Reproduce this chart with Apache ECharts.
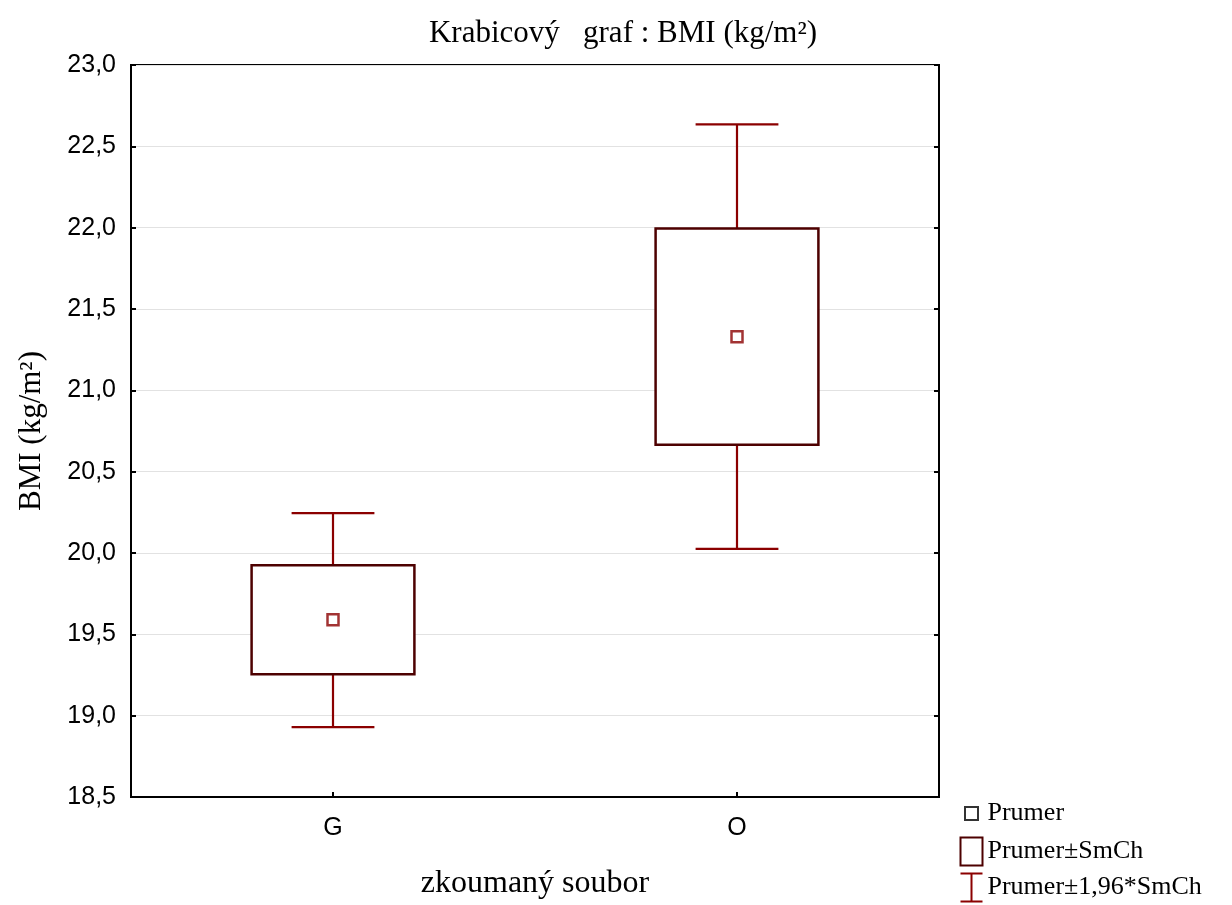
<!DOCTYPE html>
<html>
<head>
<meta charset="utf-8">
<script src="https://cdn.jsdelivr.net/npm/echarts@6/dist/echarts.min.js"></script>
<style>
  html, body { margin: 0; padding: 0; background: #fff; }
  #main { width: 1232px; height: 905px; }
</style>
</head>
<body>
<div id="main"></div>
<script>
// zkoumané soubory
var categories = ['G', 'O'];
// prumer
var means = [19.59, 21.33];
// prumer -/+ SmCh
var seLow = [19.255, 20.665];
var seHigh = [19.925, 21.995];
// prumer -/+ 1,96*SmCh
var ciLow = [18.93, 20.025];
var ciHigh = [20.245, 22.635];
var yTicks = [18.5, 19.0, 19.5, 20.0, 20.5, 21.0, 21.5, 22.0, 22.5, 23.0];

var boxColor = '#4d0000';
var whiskerColor = '#8b0000';
var serif = '"Liberation Serif", "DejaVu Serif", serif';
var sans = '"Liberation Sans", Arial, sans-serif';

var boxData = categories.map(function (c, i) { return [i, seLow[i], seHigh[i]]; });
var ciData = categories.map(function (c, i) { return [i, ciLow[i], ciHigh[i]]; });
var meanData = categories.map(function (c, i) { return [i, means[i]]; });

var myChart = echarts.init(document.getElementById('main'));

function fmt(v) { return v.toFixed(1).replace('.', ','); }

// one legend per row, so the column never wraps at the bottom edge
function legendRow(top, item) {
    return {
        orient: 'vertical',
        left: 958,
        top: top,
        padding: 0,
        itemWidth: 22,
        itemHeight: 28,
        textStyle: { fontFamily: serif, fontSize: 26, color: '#000' },
        data: [item]
    };
}

var yAxisBase = {
    type: 'value',
    min: yTicks[0],
    max: yTicks[yTicks.length - 1],
    interval: 0.5,
    axisLine: { show: true, lineStyle: { color: '#000', width: 2 } },
    axisTick: { show: true, inside: true, length: 5, lineStyle: { color: '#000', width: 2 } }
};

myChart.setOption({
    animation: false,
    title: {
        text: 'Krabicový   graf : BMI (kg/m²)',
        left: 618,
        textAlign: 'center',
        top: 13,
        textStyle: { fontFamily: serif, fontSize: 31, fontWeight: 'normal', color: '#000' }
    },
    grid: {
        left: 131, right: 293, top: 65, bottom: 108,
        show: true, borderColor: '#000', borderWidth: 2
    },
    legend: [
        legendRow(797, {
            name: 'Prumer',
            icon: 'path://M0,0M22,28M4.5,7.5h13v13h-13Z',
            itemStyle: { color: 'none', borderColor: '#000', borderWidth: 2 }
        }),
        legendRow(835, {
            name: 'Prumer±SmCh',
            icon: 'path://M0,0h22v28h-22Z',
            itemStyle: { color: 'none', borderColor: boxColor, borderWidth: 2 }
        }),
        legendRow(871, {
            name: 'Prumer±1,96*SmCh',
            icon: 'path://M0,0H22M11,0V28M0,28H22',
            itemStyle: { color: 'none', borderColor: whiskerColor, borderWidth: 2 }
        })
    ],
    xAxis: {
        type: 'category',
        data: categories,
        name: 'zkoumaný soubor',
        nameLocation: 'middle',
        nameGap: 71,
        nameTextStyle: { fontFamily: serif, fontSize: 32, color: '#000' },
        axisLine: { show: true, lineStyle: { color: '#000', width: 2 } },
        axisTick: { show: true, inside: true, alignWithLabel: true, length: 5, lineStyle: { color: '#000', width: 2 },
            interval: 0 },
        axisLabel: { margin: 19, fontFamily: sans, fontSize: 25, color: '#000' },
        splitLine: { show: false }
    },
    yAxis: [
        Object.assign({}, yAxisBase, {
            position: 'left',
            name: 'BMI (kg/m²)',
            nameLocation: 'middle',
            nameGap: 84,
            nameTextStyle: { fontFamily: serif, fontSize: 31, color: '#000' },
            axisLabel: { margin: 15, fontFamily: sans, fontSize: 25, color: '#000', formatter: fmt },
            splitLine: { show: true, lineStyle: { color: '#e2e2e2', width: 1 } }
        }),
        Object.assign({}, yAxisBase, {
            position: 'right',
            axisLabel: { show: false },
            splitLine: { show: false }
        })
    ],
    series: [
        {
            name: 'Prumer±1,96*SmCh',
            type: 'custom',
            data: ciData,
            z: 2,
            itemStyle: { color: whiskerColor },
            renderItem: function (params, api) {
                var x = api.value(0);
                var lo = api.coord([x, api.value(1)]);
                var hi = api.coord([x, api.value(2)]);
                var cap = api.size([1, 0])[0] * 0.205;
                var st = { stroke: whiskerColor, lineWidth: 2.2, fill: 'none' };
                return {
                    type: 'group',
                    children: [
                        { type: 'line', shape: { x1: lo[0], y1: lo[1], x2: hi[0], y2: hi[1] }, style: st },
                        { type: 'line', shape: { x1: lo[0] - cap / 2, y1: lo[1], x2: lo[0] + cap / 2, y2: lo[1] }, style: st },
                        { type: 'line', shape: { x1: hi[0] - cap / 2, y1: hi[1], x2: hi[0] + cap / 2, y2: hi[1] }, style: st }
                    ]
                };
            }
        },
        {
            name: 'Prumer±SmCh',
            type: 'custom',
            data: boxData,
            z: 3,
            itemStyle: { color: boxColor },
            renderItem: function (params, api) {
                var x = api.value(0);
                var lo = api.coord([x, api.value(1)]);
                var hi = api.coord([x, api.value(2)]);
                var w = api.size([1, 0])[0] * 0.403;
                return {
                    type: 'rect',
                    shape: { x: lo[0] - w / 2, y: hi[1], width: w, height: lo[1] - hi[1] },
                    style: { fill: '#fff', stroke: boxColor, lineWidth: 2.5 }
                };
            }
        },
        {
            name: 'Prumer',
            type: 'scatter',
            data: meanData,
            z: 4,
            symbol: 'rect',
            symbolSize: 11,
            itemStyle: { color: '#fff', borderColor: whiskerColor, borderWidth: 2.5 }
        }
    ]
});
</script>
</body>
</html>
